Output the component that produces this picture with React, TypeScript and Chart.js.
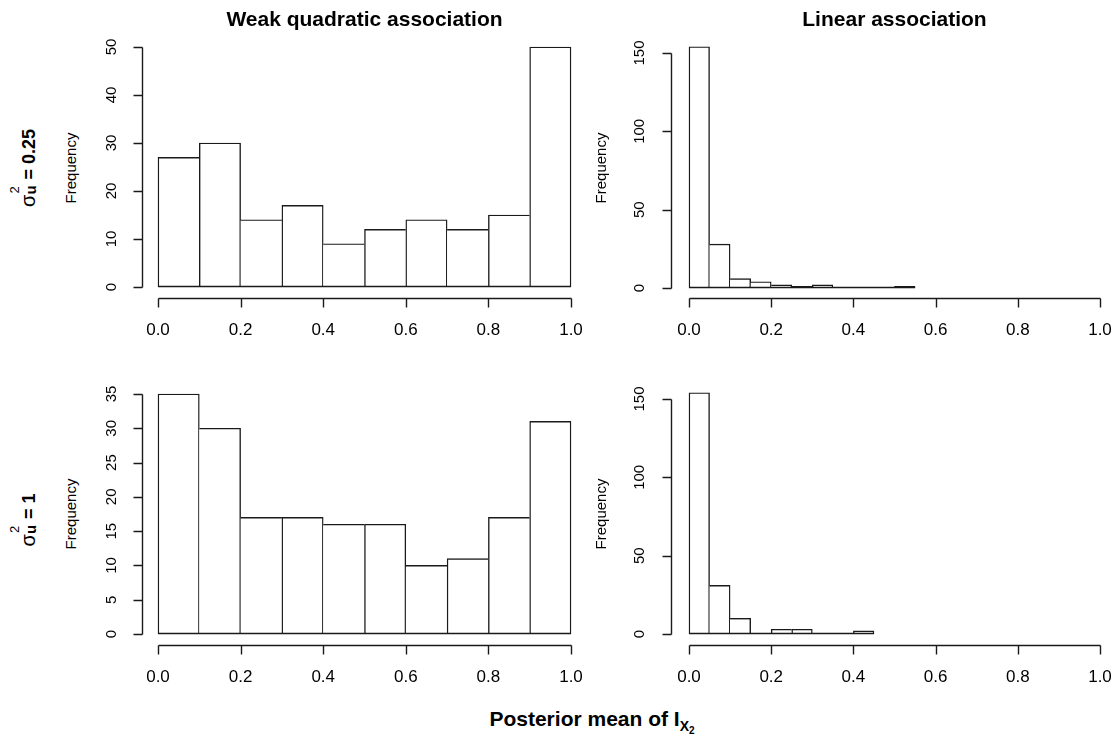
import React, { useEffect, useRef } from "react";
import { Chart, registerables } from "chart.js";

Chart.register(...registerables);

// ---------- data ----------
const xTickValues = [0, 0.2, 0.4, 0.6, 0.8, 1.0];
const xTickLabels = ["0.0", "0.2", "0.4", "0.6", "0.8", "1.0"];

const quadBreaks = [0, 0.1, 0.2, 0.3, 0.4, 0.5, 0.6, 0.7, 0.8, 0.9, 1.0];
const quadCounts025 = [27, 30, 14, 17, 9, 12, 14, 12, 15, 50];
const quadCounts1 = [35, 30, 17, 17, 16, 16, 10, 11, 17, 31];

const linBreaks025 = [0, 0.05, 0.1, 0.15, 0.2, 0.25, 0.3, 0.35, 0.4, 0.45, 0.5, 0.55];
const linCounts025 = [154, 28, 6, 4, 2, 1, 2, 0, 0, 0, 1];
const linBreaks1 = [0, 0.05, 0.1, 0.15, 0.2, 0.25, 0.3, 0.35, 0.4, 0.45];
const linCounts1 = [154, 31, 10, 0, 3, 3, 0, 0, 2];

const yTicksQuad025 = [0, 10, 20, 30, 40, 50];
const yTicksQuad1 = [0, 5, 10, 15, 20, 25, 30, 35];
const yTicksLin = [0, 50, 100, 150];

const colTitles = ["Weak quadratic association", "Linear association"];
const rowValues = ["0.25", "1"];
const yAxisTitle = "Frequency";

const FONT = '"Liberation Sans", Arial, Helvetica, sans-serif';
const LINE = "#1a1a1a";
const LW = 1.4;

const rAxesPlugin = {
  id: "rAxes",
  afterDatasetsDraw(chart: any, _args: any, opts: any) {
    const { ctx } = chart;
    const xs = chart.scales.x;
    const ys = chart.scales.y;
    ctx.save();
    ctx.strokeStyle = LINE;
    ctx.lineWidth = LW;
    // histogram baseline (zero-height bins)
    const b = opts.breaks;
    const y0 = Math.round(ys.getPixelForValue(0));
    ctx.beginPath();
    ctx.moveTo(xs.getPixelForValue(b[0]), y0 - 0.5);
    ctx.lineTo(xs.getPixelForValue(b[b.length - 1]), y0 - 0.5);
    ctx.stroke();

    // x axis
    const ax = Math.round(opts.xAxisY) + 0.5;
    const xv = opts.xTicks;
    ctx.beginPath();
    ctx.moveTo(Math.round(xs.getPixelForValue(xv[0])) + 0.5, ax);
    ctx.lineTo(Math.round(xs.getPixelForValue(xv[xv.length - 1])) + 0.5, ax);
    for (const v of xv) {
      const px = Math.round(xs.getPixelForValue(v)) + 0.5;
      ctx.moveTo(px, ax);
      ctx.lineTo(px, ax + 9);
    }
    ctx.stroke();
    ctx.fillStyle = "#000";
    ctx.font = `17px ${FONT}`;
    ctx.textAlign = "center";
    ctx.textBaseline = "middle";
    xv.forEach((v: number, i: number) => {
      ctx.fillText(opts.xLabels[i], xs.getPixelForValue(v), opts.xLabelY);
    });

    // y axis
    const yx = Math.round(opts.yAxisX) + 0.5;
    const yv = opts.yTicks;
    ctx.beginPath();
    ctx.moveTo(yx, Math.round(ys.getPixelForValue(yv[0])) + 0.5);
    ctx.lineTo(yx, Math.round(ys.getPixelForValue(yv[yv.length - 1])) + 0.5);
    for (const v of yv) {
      const py = Math.round(ys.getPixelForValue(v)) + 0.5;
      ctx.moveTo(yx, py);
      ctx.lineTo(yx - 9, py);
    }
    ctx.stroke();
    ctx.font = `15px ${FONT}`;
    for (const v of yv) {
      ctx.save();
      ctx.translate(opts.yLabelX, ys.getPixelForValue(v));
      ctx.rotate(-Math.PI / 2);
      ctx.fillText(String(v), 0, 0);
      ctx.restore();
    }
    ctx.restore();
  },
};

type PanelProps = {
  breaks: number[];
  counts: number[];
  yTicks: number[];
  canvas: { left: number; top: number; width: number; height: number };
  plot: { left: number; right: number; top: number; bottom: number };
  yAxisX: number;
  xAxisY: number;
  yLabelX: number;
  xLabelY: number;
};

function Panel(p: PanelProps) {
  const ref = useRef<HTMLCanvasElement>(null);
  useEffect(() => {
    const c = p.canvas;
    const centers = p.counts.map((_, i) => (p.breaks[i] + p.breaks[i + 1]) / 2);
    const counts = p.counts;
    const last = counts.length - 1;
    const chart = new Chart(ref.current as HTMLCanvasElement, {
      type: "bar",
      data: {
        datasets: [
          {
            data: centers.map((x, i) => ({ x, y: counts[i] })),
            backgroundColor: "#ffffff",
            borderColor: LINE,
            borderSkipped: false,
            borderWidth: (ctx: any) => {
              const i = ctx.dataIndex;
              const cur = counts[i];
              const left = i === 0 || counts[i - 1] <= cur ? LW : 0;
              const right = i === last || counts[i + 1] < cur ? LW : 0;
              return { top: LW, bottom: 0, left, right };
            },
            barPercentage: 1,
            categoryPercentage: 1,
            clip: false,
          } as any,
        ],
      },
      options: {
        animation: false,
        responsive: false,
        events: [],
        layout: {
          padding: {
            left: p.plot.left - c.left,
            right: c.left + c.width - p.plot.right,
            top: p.plot.top - c.top,
            bottom: c.top + c.height - p.plot.bottom,
          },
        },
        plugins: {
          legend: { display: false },
          tooltip: { enabled: false },
          rAxes: {
            breaks: p.breaks,
            xTicks: xTickValues,
            xLabels: xTickLabels,
            yTicks: p.yTicks,
            xAxisY: p.xAxisY - c.top,
            xLabelY: p.xLabelY - c.top,
            yAxisX: p.yAxisX - c.left,
            yLabelX: p.yLabelX - c.left,
          },
        } as any,
        scales: {
          x: {
            type: "linear",
            min: 0,
            max: 1,
            display: false,
            offset: false,
            ticks: { stepSize: 0.2 },
          },
          y: {
            type: "linear",
            min: 0,
            max: p.yTicks[p.yTicks.length - 1],
            display: false,
          },
        },
      },
      plugins: [rAxesPlugin as any],
    });
    return () => chart.destroy();
  }, []);
  const c = p.canvas;
  return (
    <canvas
      ref={ref}
      width={c.width}
      height={c.height}
      style={{ position: "absolute", left: c.left, top: c.top, width: c.width, height: c.height }}
    />
  );
}

function abs(left: number, top: number, extra: React.CSSProperties = {}): React.CSSProperties {
  return {
    position: "absolute",
    left,
    top,
    transform: "translate(-50%, -50%)",
    whiteSpace: "nowrap",
    fontFamily: FONT,
    color: "#000",
    lineHeight: 1,
    ...extra,
  };
}

function RowLabel({ x, y, value }: { x: number; y: number; value: string }) {
  return (
    <div style={abs(x, y, { transform: "translate(-50%, -50%) rotate(-90deg)", fontWeight: "bold", fontSize: 18 })}>
      <span style={{ fontWeight: "normal", fontSize: 20 }}>σ</span>
      <span style={{ position: "relative", display: "inline-block", width: 10, height: "1em", verticalAlign: "baseline" }}>
        <span style={{ position: "absolute", left: 1, top: -9, fontWeight: "normal", fontSize: 13 }}>2</span>
        <span style={{ position: "absolute", left: 0, top: 6, fontWeight: "bold", fontSize: 15 }}>u</span>
      </span>
      <span>{" = " + value}</span>
    </div>
  );
}

export default function App() {
  return (
    <div style={{ position: "absolute", left: 0, top: 0, width: 1120, height: 738, background: "#fff", overflow: "hidden" }}>
      <Panel
        breaks={quadBreaks}
        counts={quadCounts025}
        yTicks={yTicksQuad025}
        canvas={{ left: 90, top: 25, width: 510, height: 330 }}
        plot={{ left: 158, right: 571, top: 47, bottom: 287 }}
        yAxisX={142}
        xAxisY={298}
        yLabelX={112}
        xLabelY={330}
      />
      <Panel
        breaks={linBreaks025}
        counts={linCounts025}
        yTicks={yTicksLin}
        canvas={{ left: 615, top: 25, width: 505, height: 330 }}
        plot={{ left: 689, right: 1100, top: 53, bottom: 288 }}
        yAxisX={671}
        xAxisY={298}
        yLabelX={640}
        xLabelY={330}
      />
      <Panel
        breaks={quadBreaks}
        counts={quadCounts1}
        yTicks={yTicksQuad1}
        canvas={{ left: 90, top: 370, width: 510, height: 330 }}
        plot={{ left: 158, right: 571, top: 394, bottom: 634 }}
        yAxisX={142}
        xAxisY={645}
        yLabelX={112}
        xLabelY={677}
      />
      <Panel
        breaks={linBreaks1}
        counts={linCounts1}
        yTicks={yTicksLin}
        canvas={{ left: 615, top: 370, width: 505, height: 330 }}
        plot={{ left: 689, right: 1100, top: 399, bottom: 634 }}
        yAxisX={671}
        xAxisY={645}
        yLabelX={640}
        xLabelY={677}
      />

      <div style={abs(364.5, 18, { fontWeight: "bold", fontSize: 21 })}>{colTitles[0]}</div>
      <div style={abs(894.5, 18, { fontWeight: "bold", fontSize: 21 })}>{colTitles[1]}</div>

      <RowLabel x={27} y={168} value={rowValues[0]} />
      <RowLabel x={27} y={520} value={rowValues[1]} />

      {[
        [70, 167.5],
        [600, 167.5],
        [70, 514],
        [600, 514],
      ].map(([x, y], i) => (
        <div key={i} style={abs(x, y, { transform: "translate(-50%, -50%) rotate(-90deg)", fontSize: 15 })}>
          {yAxisTitle}
        </div>
      ))}

      <div style={abs(592, 718, { fontWeight: "bold", fontSize: 21 })}>
        Posterior mean of I
        <span style={{ fontSize: 14, position: "relative", top: 5 }}>
          X<span style={{ fontSize: 10, position: "relative", top: 3 }}>2</span>
        </span>
      </div>
    </div>
  );
}
